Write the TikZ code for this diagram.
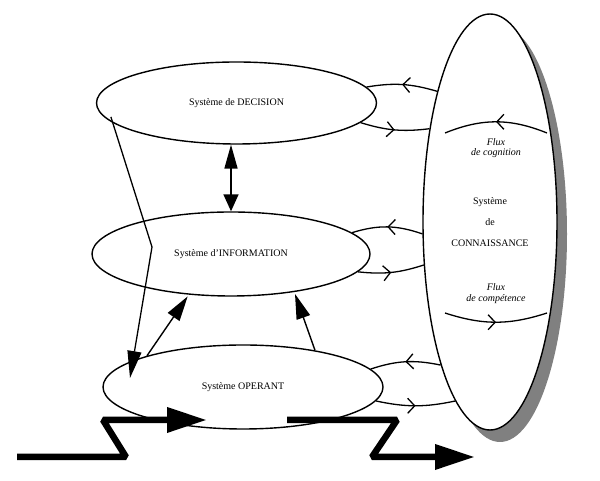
\documentclass[tikz,border=0pt]{standalone}
\usepackage{fontspec}
\setmainfont{Liberation Serif}
\usetikzlibrary{shapes.geometric}
\usetikzlibrary{arrows.meta}
\usetikzlibrary{decorations.markings}
\usetikzlibrary{shadows}

\tikzset{
  sys/.style={draw, ellipse, line width=1.4pt, inner sep=0pt, minimum width=280pt, minimum height=82pt},
  boucle/.style={line width=1.3pt, decoration={markings, mark=at position 0.5 with {\arrow{Straight Barb[length=7pt,width=15pt]}}}, postaction={decorate}},
  fleche/.style={line width=1.4pt, shorten >=2pt, -{Triangle[length=25pt,width=14pt]}},
  flux/.style={line width=6.5pt, line join=bevel, -{Triangle[length=40pt,width=24pt]}}
}

\begin{document}
\begin{tikzpicture}[x=10pt,y=10pt]
\useasboundingbox (0,0) rectangle (60,48.1);
\node[sys, minimum width=134pt, minimum height=416pt, fill=white, align=center,
  drop shadow={shadow xshift=10pt, shadow yshift=-12pt, fill=gray, opacity=1}] (conn) at (49,25.9) {Système\\[9pt]de\\[9pt]CONNAISSANCE};
\node[sys] (dec) at (23.65,37.8) {Système de DECISION};
\node[sys, minimum width=278pt, minimum height=84pt] (info) at (23.1,22.7) {Système d'INFORMATION};
\node[sys, minimum height=84pt] (op) at (24.3,9.4) {Système OPERANT};
\node[font=\itshape\fontsize{10}{10.5}\selectfont, align=center] (cog) at (49.6,33.3) {Flux\\de cognition};
\node[font=\itshape\fontsize{10}{10.5}\selectfont, align=center] (comp) at (49.6,18.75) {Flux\\de compétence};

\draw[boucle] (conn.112) to[bend right=13] (dec.7);
\draw[boucle] (dec.-9) to[bend right=12] (conn.123);
\draw[boucle] (conn.190) to[bend right=18] (info.10);
\draw[boucle] (info.-8) to[bend right=12] (conn.213);
\draw[boucle] (conn.251) to[bend right=15] (op.8);
\draw[boucle] (op.-6) to[bend right=12] (conn.259);

\coordinate (cogA) at (54.7,34.8);
\coordinate (cogB) at (44.5,34.8);
\coordinate (compA) at (44.5,16.8);
\coordinate (compB) at (54.7,16.8);
\draw[boucle] (cogA) to[bend right=22] (cogB);
\draw[boucle] (compA) to[bend right=18] (compB);

\draw[line width=1.6pt, {Triangle[length=24pt,width=13pt]}-{Triangle[length=17pt,width=15pt]}] (info.north |- dec.south) -- (info.north);
\coordinate (coude) at (15.2,23.4);
\coordinate (bout) at (13.0,10.3);
\draw[line width=1.3pt, -{Triangle[length=27pt,width=14pt]}] ([xshift=7pt]dec.186) -- (coude) -- (bout);
\draw[fleche] (op.162) -- (info.224);
\draw[fleche] (op.27) -- (info.-31);

\coordinate (entree) at (1.7,2.4);
\coordinate (sortieA) at (20.7,6.1);
\coordinate (entreeB) at (28.7,6.1);
\coordinate (sortie) at (47.5,2.4);
\draw[flux] (entree) -- (12.6,2.4) -- (10.3,6.1) -- (sortieA);
\draw[flux] (entreeB) -- (39.7,6.1) -- (37.2,2.4) -- (sortie);
\end{tikzpicture}
\end{document}
